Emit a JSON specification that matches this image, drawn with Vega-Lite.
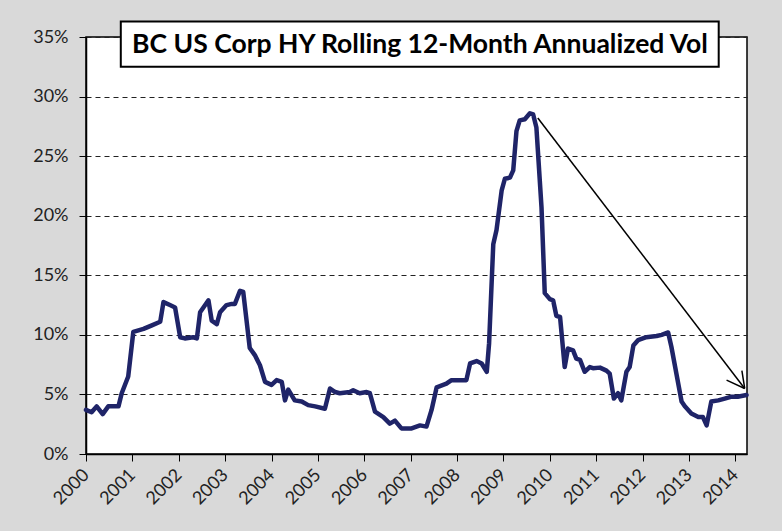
{
  "$schema": "https://vega.github.io/schema/vega-lite/v6.json",
  "autosize": {"type": "none"},
  "width": 661,
  "height": 417,
  "padding": {"left": 86, "top": 37, "right": 35, "bottom": 77},
  "background": "#d9d9d9",
  "config": {
    "view": {"fill": "white", "stroke": "black", "strokeWidth": 1.5},
    "font": "Lato",
    "axis": {"labelFont": "Lato", "labelColor": "#222", "domainColor": "black", "tickColor": "black", "tickSize": 7, "domainWidth": 1.5, "title": null}
  },
  "datasets": {
    "vol": [
      {"yr": 2000.0, "v": 3.7}, {"yr": 2000.12, "v": 3.5}, {"yr": 2000.23, "v": 4.0}, {"yr": 2000.36, "v": 3.35}, {"yr": 2000.48, "v": 4.0}, {"yr": 2000.70, "v": 4.0}, {"yr": 2000.77, "v": 5.1}, {"yr": 2000.91, "v": 6.5},
      {"yr": 2001.02, "v": 10.25}, {"yr": 2001.24, "v": 10.5}, {"yr": 2001.42, "v": 10.8}, {"yr": 2001.60, "v": 11.1}, {"yr": 2001.67, "v": 12.75}, {"yr": 2001.81, "v": 12.5}, {"yr": 2001.92, "v": 12.3},
      {"yr": 2002.03, "v": 9.8}, {"yr": 2002.13, "v": 9.7}, {"yr": 2002.31, "v": 9.8}, {"yr": 2002.39, "v": 9.7}, {"yr": 2002.46, "v": 11.9}, {"yr": 2002.64, "v": 12.9}, {"yr": 2002.71, "v": 11.2}, {"yr": 2002.82, "v": 10.9}, {"yr": 2002.89, "v": 11.9},
      {"yr": 2003.03, "v": 12.5}, {"yr": 2003.14, "v": 12.6}, {"yr": 2003.21, "v": 12.6}, {"yr": 2003.32, "v": 13.7}, {"yr": 2003.39, "v": 13.6}, {"yr": 2003.53, "v": 8.9}, {"yr": 2003.64, "v": 8.3}, {"yr": 2003.75, "v": 7.45}, {"yr": 2003.86, "v": 6.05},
      {"yr": 2004.0, "v": 5.8}, {"yr": 2004.11, "v": 6.2}, {"yr": 2004.22, "v": 6.05}, {"yr": 2004.29, "v": 4.5}, {"yr": 2004.36, "v": 5.4}, {"yr": 2004.50, "v": 4.5}, {"yr": 2004.65, "v": 4.4}, {"yr": 2004.79, "v": 4.1}, {"yr": 2004.94, "v": 4.0},
      {"yr": 2005.15, "v": 3.8}, {"yr": 2005.26, "v": 5.5}, {"yr": 2005.37, "v": 5.2}, {"yr": 2005.47, "v": 5.1}, {"yr": 2005.69, "v": 5.2}, {"yr": 2005.76, "v": 5.35}, {"yr": 2005.90, "v": 5.1},
      {"yr": 2006.05, "v": 5.2}, {"yr": 2006.12, "v": 5.1}, {"yr": 2006.23, "v": 3.55}, {"yr": 2006.41, "v": 3.1}, {"yr": 2006.55, "v": 2.55}, {"yr": 2006.66, "v": 2.8}, {"yr": 2006.80, "v": 2.15},
      {"yr": 2007.02, "v": 2.15}, {"yr": 2007.20, "v": 2.4}, {"yr": 2007.34, "v": 2.3}, {"yr": 2007.45, "v": 3.7}, {"yr": 2007.56, "v": 5.6}, {"yr": 2007.70, "v": 5.8}, {"yr": 2007.77, "v": 5.9}, {"yr": 2007.88, "v": 6.2},
      {"yr": 2008.06, "v": 6.2}, {"yr": 2008.20, "v": 6.2}, {"yr": 2008.28, "v": 7.6}, {"yr": 2008.42, "v": 7.8}, {"yr": 2008.53, "v": 7.6}, {"yr": 2008.64, "v": 6.9}, {"yr": 2008.69, "v": 9.3}, {"yr": 2008.78, "v": 17.6}, {"yr": 2008.85, "v": 18.8}, {"yr": 2008.96, "v": 22.1},
      {"yr": 2009.03, "v": 23.1}, {"yr": 2009.14, "v": 23.2}, {"yr": 2009.21, "v": 23.8}, {"yr": 2009.28, "v": 27.1}, {"yr": 2009.35, "v": 28.0}, {"yr": 2009.46, "v": 28.1}, {"yr": 2009.57, "v": 28.6}, {"yr": 2009.64, "v": 28.5}, {"yr": 2009.71, "v": 27.4}, {"yr": 2009.82, "v": 20.7}, {"yr": 2009.89, "v": 13.5},
      {"yr": 2010.0, "v": 13.0}, {"yr": 2010.07, "v": 12.9}, {"yr": 2010.14, "v": 11.6}, {"yr": 2010.22, "v": 11.5}, {"yr": 2010.32, "v": 7.3}, {"yr": 2010.39, "v": 8.85}, {"yr": 2010.50, "v": 8.7}, {"yr": 2010.57, "v": 8.0}, {"yr": 2010.65, "v": 7.9}, {"yr": 2010.75, "v": 6.9}, {"yr": 2010.86, "v": 7.3}, {"yr": 2010.93, "v": 7.2},
      {"yr": 2011.08, "v": 7.25}, {"yr": 2011.22, "v": 7.0}, {"yr": 2011.29, "v": 6.75}, {"yr": 2011.38, "v": 4.65}, {"yr": 2011.47, "v": 5.1}, {"yr": 2011.54, "v": 4.5}, {"yr": 2011.65, "v": 6.9}, {"yr": 2011.72, "v": 7.3}, {"yr": 2011.80, "v": 9.1}, {"yr": 2011.90, "v": 9.55},
      {"yr": 2012.08, "v": 9.8}, {"yr": 2012.30, "v": 9.9}, {"yr": 2012.41, "v": 10.0}, {"yr": 2012.55, "v": 10.2}, {"yr": 2012.62, "v": 9.0}, {"yr": 2012.84, "v": 4.4}, {"yr": 2012.91, "v": 4.0},
      {"yr": 2013.05, "v": 3.4}, {"yr": 2013.20, "v": 3.1}, {"yr": 2013.30, "v": 3.1}, {"yr": 2013.38, "v": 2.4}, {"yr": 2013.48, "v": 4.4}, {"yr": 2013.63, "v": 4.5}, {"yr": 2013.77, "v": 4.65}, {"yr": 2013.90, "v": 4.8},
      {"yr": 2014.05, "v": 4.8}, {"yr": 2014.24, "v": 4.95}
    ],
    "arrow": [
      {"x1": 2009.74, "y1": 28.2, "x2": 2014.2, "y2": 5.5},
      {"x1": 2014.2, "y1": 5.5, "x2": 2013.81, "y2": 6.2},
      {"x1": 2014.2, "y1": 5.5, "x2": 2014.14, "y2": 7.0}
    ],
    "titlebox": [
      {"x1": 2000.75, "x2": 2013.64, "y1": 36.3, "y2": 32.5, "xm": 2007.2, "ym": 34.35, "label": "BC US Corp HY Rolling 12-Month Annualized Vol"}
    ]
  },
  "layer": [
    {
      "data": {"name": "vol"},
      "mark": {"type": "line", "color": "#1f2468", "strokeWidth": 4.5, "strokeJoin": "round", "strokeCap": "round"},
      "encoding": {
        "x": {"field": "yr", "type": "quantitative",
          "scale": {"domain": [2000, 2014.25], "nice": false, "zero": false},
          "axis": {"values": [2000, 2001, 2002, 2003, 2004, 2005, 2006, 2007, 2008, 2009, 2010, 2011, 2012, 2013, 2014], "format": "d", "labelAngle": -45, "labelAlign": "right", "labelBaseline": "middle", "labelPadding": 11, "labelFontSize": 18, "labelOverlap": false, "labelFlush": false, "grid": false}},
        "y": {"field": "v", "type": "quantitative",
          "scale": {"domain": [0, 35], "nice": false},
          "axis": {"values": [0, 5, 10, 15, 20, 25, 30, 35], "labelExpr": "datum.value + '%'", "labelPadding": 11, "labelFontSize": 18, "grid": true, "gridColor": "#222", "gridDash": [5, 4], "gridWidth": 1.2}}
      }
    },
    {
      "data": {"name": "arrow"},
      "mark": {"type": "rule", "color": "black", "strokeWidth": 1.5},
      "encoding": {
        "x": {"field": "x1", "type": "quantitative"},
        "x2": {"field": "x2"},
        "y": {"field": "y1", "type": "quantitative"},
        "y2": {"field": "y2"}
      }
    },
    {
      "data": {"name": "titlebox"},
      "mark": {"type": "rect", "fill": "white", "stroke": "black", "strokeWidth": 2},
      "encoding": {
        "x": {"field": "x1", "type": "quantitative"},
        "x2": {"field": "x2"},
        "y": {"field": "y1", "type": "quantitative"},
        "y2": {"field": "y2"}
      }
    },
    {
      "data": {"name": "titlebox"},
      "mark": {"type": "text", "font": "Lato", "fontWeight": "bold", "fontSize": 26.5, "color": "black", "align": "center", "baseline": "middle"},
      "encoding": {
        "x": {"field": "xm", "type": "quantitative"},
        "y": {"field": "ym", "type": "quantitative"},
        "text": {"field": "label"}
      }
    }
  ]
}
